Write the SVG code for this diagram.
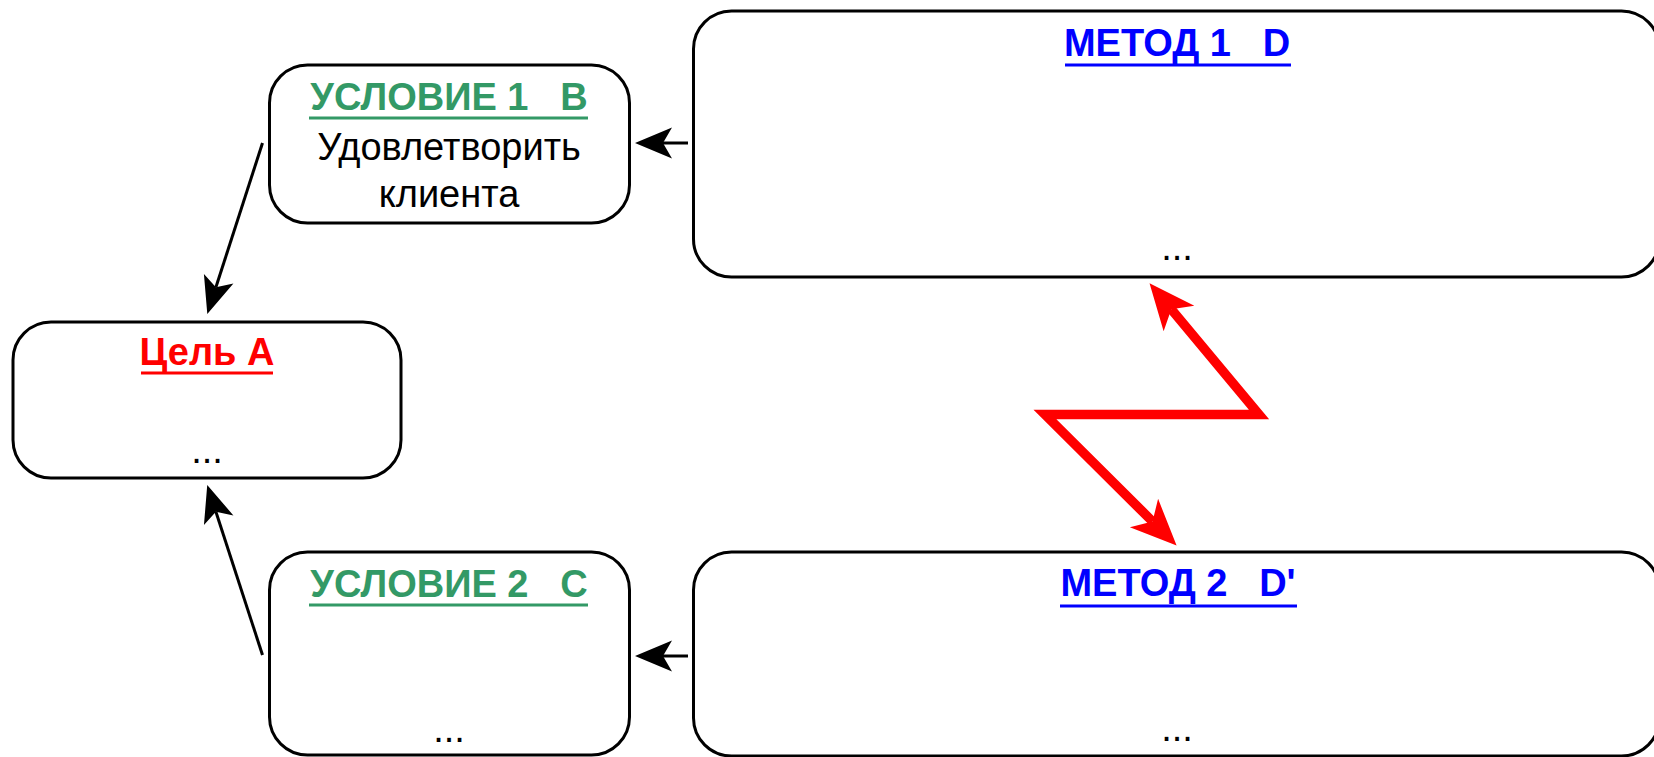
<svg xmlns="http://www.w3.org/2000/svg" width="1654" height="757" viewBox="0 0 1654 757">
  <style>
    .box { fill: #ffffff; stroke: #000000; stroke-width: 3; }
    .t { font-family: "Liberation Sans", Arial, sans-serif; text-anchor: middle; }
    .title { font-size: 38px; font-weight: bold; }
    .body { font-size: 38px; fill: #000000; }
    .green { fill: #339966; }
    .red { fill: #ff0000; }
    .blue { fill: #0000ff; }
    .ul { stroke-width: 3; }
    .link { fill: none; stroke: #000000; stroke-width: 3; }
    .swap { fill: none; stroke: #ff0000; stroke-width: 9.5; stroke-linejoin: miter; }
  </style>
  <defs>
    <marker id="head" markerUnits="userSpaceOnUse" viewBox="-38 -17 40 34" markerWidth="40" markerHeight="34" refX="-28" refY="0" orient="auto">
      <path d="M0,0 L-37,-15.5 L-28,0 L-37,15.5 Z" fill="#000000"/>
    </marker>
    <marker id="redhead" markerUnits="userSpaceOnUse" viewBox="-48 -21 50 42" markerWidth="50" markerHeight="42" refX="-34" refY="0" orient="auto-start-reverse">
      <path d="M0,0 L-46,-20 L-34,0 L-46,20 Z" fill="#ff0000"/>
    </marker>
  </defs>

  <!-- Goal -->
  <g id="goal-a">
    <rect class="box" x="13" y="322" width="388" height="156" rx="38" ry="38"/>
    <text class="t title red" x="207" y="365" xml:space="preserve">Цель А</text>
    <line class="ul" x1="141" y1="373" x2="273" y2="373" stroke="#ff0000"/>
    <text class="t body" x="207" y="463">...</text>
  </g>

  <!-- Condition 1 -->
  <g id="condition-1">
    <rect class="box" x="269.5" y="65" width="360" height="158" rx="38" ry="38"/>
    <text class="t title green" x="449" y="110" xml:space="preserve">УСЛОВИЕ 1   В</text>
    <line class="ul" x1="309" y1="118" x2="588" y2="118" stroke="#339966"/>
    <text class="t body" x="449" y="160">Удовлетворить</text>
    <text class="t body" x="449" y="207">клиента</text>
  </g>

  <!-- Condition 2 -->
  <g id="condition-2">
    <rect class="box" x="269.5" y="552" width="360" height="203" rx="38" ry="38"/>
    <text class="t title green" x="449" y="597" xml:space="preserve">УСЛОВИЕ 2   С</text>
    <line class="ul" x1="309" y1="605" x2="588" y2="605" stroke="#339966"/>
    <text class="t body" x="449" y="742">...</text>
  </g>

  <!-- Method 1 -->
  <g id="method-1">
    <rect class="box" x="693.5" y="11" width="966" height="266" rx="38" ry="38"/>
    <text class="t title blue" x="1177" y="56" xml:space="preserve">МЕТОД 1   D</text>
    <line class="ul" x1="1065" y1="65" x2="1291" y2="65" stroke="#0000ff"/>
    <text class="t body" x="1177" y="260">...</text>
  </g>

  <!-- Method 2 -->
  <g id="method-2">
    <rect class="box" x="693.5" y="552" width="966" height="204" rx="38" ry="38"/>
    <text class="t title blue" x="1178" y="596" xml:space="preserve">МЕТОД 2   D'</text>
    <line class="ul" x1="1060" y1="606" x2="1297" y2="606" stroke="#0000ff"/>
    <text class="t body" x="1177" y="741">...</text>
  </g>

  <!-- Connectors -->
  <g id="connectors">
    <path class="link" d="M262.5,143 L215.9,287.3" marker-end="url(#head)"/>
    <path class="link" d="M262.5,655 L215.9,511.7" marker-end="url(#head)"/>
    <path class="link" d="M688,143 L663,143" marker-end="url(#head)"/>
    <path class="link" d="M688,656 L663,656" marker-end="url(#head)"/>
    <path class="swap" d="M1171.3,309.3 L1259,414.5 L1045,414.5 L1152.5,521.5" marker-start="url(#redhead)" marker-end="url(#redhead)"/>
  </g>
</svg>
